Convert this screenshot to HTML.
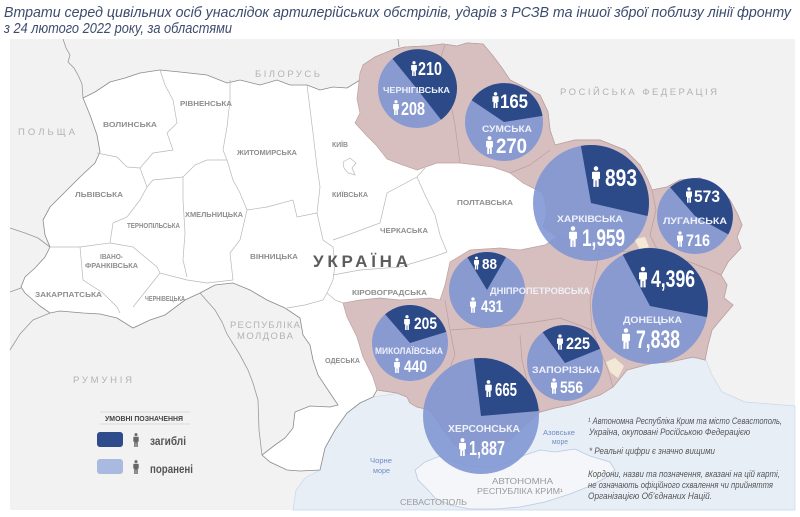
<!DOCTYPE html>
<html><head><meta charset="utf-8">
<style>
html,body{margin:0;padding:0;background:#fff;}
svg{display:block;}
text{font-family:"Liberation Sans","Noto Sans CJK SC",sans-serif;}
.cl{fill:#b3b3b3;font-size:9.5px;}
.rl{fill:#8e8e8e;font-size:7.5px;font-weight:bold;}
.pl{fill:#eef1fa;font-weight:bold;}
.pn{fill:#ffffff;font-weight:bold;}
.fn{fill:#555;font-size:9px;font-style:italic;}
.sea{fill:#6d8cc4;font-size:7.5px;}
</style></head>
<body>
<svg width="800" height="517" viewBox="0 0 800 517" xmlns="http://www.w3.org/2000/svg">
<defs>
<symbol id="pi" viewBox="0 0 10 26"><circle cx="5" cy="3" r="2.8"/><path d="M1.2,7 H8.8 Q10,7 10,8.2 V16 H8.3 V26 H5.6 V18 H4.4 V26 H1.7 V16 H0 V8.2 Q0,7 1.2,7Z"/></symbol>
</defs>
<rect width="800" height="517" fill="#fff"/>
<!-- title -->
<text x="4" y="17" font-size="15" font-style="italic" fill="#3d4c6e" textLength="787" lengthAdjust="spacingAndGlyphs">Втрати серед цивільних осіб унаслідок артилерійських обстрілів, ударів з РСЗВ та іншої зброї поблизу лінії фронту</text>
<text x="4" y="33" font-size="15" font-style="italic" fill="#3d4c6e" textLength="228" lengthAdjust="spacingAndGlyphs">з 24 лютого 2022 року, за областями</text>

<!-- map frame -->
<rect x="10" y="39" width="785" height="471" fill="#f2f2f2"/>
<!-- sea -->
<path d="M293,510 L296,490 L305,478 L320,470 L325,448 L335,430 L347,413 L360,403 L373,397 L400,393 L430,405 L540,405 L600,392 L627,368 L670,358 L705,358 L712,375 L722,392 L745,402 L795,406 L795,510 Z" fill="#e8eef6" stroke="#c9d7eb" stroke-width="0.7"/>

<!-- other country borders -->
<g fill="none" stroke="#9a9a9a" stroke-width="0.8">
<path d="M63,39 L66,48 L70,55 L68,62 L74,68 L78,75 L82,84 L83,98"/>
<path d="M398,39 L399,47"/>
<path d="M10,228 L25,233 L38,238 L50,247"/>
<path d="M10,292 L21,288"/>
<path d="M10,350 L20,334 L33,320 L50,313"/>
<path d="M200,293 L215,310 L222,322 L227,334 L240,355 L248,370 L253,383 L258,400 L259,430 L262,455"/>
</g>

<!-- Ukraine -->
<path d="M83,98 L95,92 L110,82 L125,78 L140,73 L160,70 L180,72 L207,75 L227,83 L240,80 L260,85 L277,80 L290,85 L307,85 L320,90 L333,87 L347,88 L360,80 L363,65 L375,57 L392,50 L405,47 L427,46 L443,44 L457,46 L467,43 L483,44 L493,56 L502,68 L510,80 L520,85 L540,95 L548,112 L550,130 L555,145 L575,140 L600,140 L625,150 L640,165 L648,180 L652,190 L667,187 L680,180 L700,178 L715,185 L730,200 L738,215 L742,225 L737,237 L741,248 L728,262 L721,275 L727,285 L724,298 L733,305 L722,318 L712,330 L708,345 L705,360 L693,357 L670,362 L653,363 L627,370 L613,387 L600,395 L585,400 L570,405 L555,408 L540,412 L525,425 L510,440 L490,450 L470,455 L455,445 L440,425 L430,410 L417,407 L410,403 L407,397 L397,393 L377,390 L373,397 L360,403 L347,413 L335,430 L325,448 L320,470 L300,471 L287,470 L270,462 L262,455 L275,445 L285,438 L293,428 L295,412 L310,406 L330,407 L338,405 L330,393 L318,375 L313,360 L310,345 L303,335 L300,318 L285,308 L267,300 L250,290 L233,283 L215,285 L200,293 L185,300 L165,315 L150,320 L133,328 L117,318 L100,314 L83,313 L60,311 L50,313 L40,306 L33,300 L25,293 L21,287 L25,277 L35,268 L45,257 L50,247 L45,235 L43,220 L50,207 L65,192 L80,177 L95,163 L100,152 L97,135 L90,115 Z" fill="#ffffff" stroke="#8a8a8a" stroke-width="0.8"/>

<!-- affected regions (pink) -->
<path d="M363,65 L375,57 L392,50 L405,47 L427,46 L443,44 L457,46 L467,43 L483,44 L493,56 L502,68 L510,80 L520,85 L540,95 L548,112 L550,130 L555,145 L575,140 L600,140 L625,150 L640,165 L648,180 L652,190 L667,187 L680,180 L700,178 L715,185 L730,200 L738,215 L742,225 L737,237 L741,248 L728,262 L721,275 L727,285 L724,298 L733,305 L722,318 L712,330 L708,345 L705,360 L693,357 L670,362 L653,363 L627,370 L613,387 L600,395 L585,400 L570,405 L555,408 L540,412 L525,425 L510,440 L490,450 L470,455 L455,445 L440,425 L430,410 L417,407 L410,403 L407,397 L397,393 L377,390 L373,377 L363,357 L357,337 L347,317 L343,303 L360,300 L380,298 L400,300 L430,298 L440,300 L445,285 L450,262 L470,250 L500,248 L520,250 L545,245 L557,237 L543,227 L547,213 L543,193 L533,188 L523,183 L510,173 L493,167 L460,163 L437,163 L417,170 L400,164 L387,159 L377,146 L367,136 L355,123 L360,113 L357,99 L360,73 Z" fill="#d6bfbe" stroke="#bfa2a2" stroke-width="0.7"/>
<!-- occupied cream -->
<path d="M634,239 L645,237 L649,247 L640,250 Z" fill="#f3e7d6"/>
<path d="M606,362 L615,358 L624,366 L618,378 L610,372 Z" fill="#f3e7d6"/>

<!-- Crimea -->
<path d="M425,462 L440,456 L455,462 L470,466 L490,468 L510,462 L525,455 L540,450 L555,452 L575,449 L590,456 L610,462 L615,470 L605,478 L590,486 L570,494 L545,502 L520,507 L495,509 L470,509 L450,505 L435,498 L428,490 L418,480 L415,470 Z" fill="#f4f6f9" stroke="#b9c9e2" stroke-width="0.8"/>

<!-- internal oblast borders (white area) -->
<g fill="none" stroke="#b8b8b8" stroke-width="0.7">
<path d="M160,70 L165,85 L173,100 L177,123 L167,133 L173,150"/>
<path d="M97,153 L117,157 L127,167 L140,168 L153,153 L173,150"/>
<path d="M140,168 L147,187 L153,180 L183,177"/>
<path d="M147,187 L140,200 L127,217 L113,223 L110,243 L80,247 L50,247"/>
<path d="M183,177 L183,200 L185,233 L183,260 L187,277"/>
<path d="M230,80 L230,100 L227,127 L223,150 L227,160"/>
<path d="M183,177 L195,165 L207,160 L227,160"/>
<path d="M227,160 L233,180 L240,193 L247,210 L240,240 L230,253 L233,280"/>
<path d="M247,210 L267,207 L293,200 L297,217 L317,213"/>
<path d="M307,85 L313,133 L317,167 L320,187 L317,213"/>
<path d="M317,213 L323,240 L333,247 L335,265 L333,280 L327,293 L323,300 L305,305 L287,308"/>
<path d="M333,240 L353,233 L380,223 L387,193 L417,177 L425,168"/>
<path d="M417,177 L425,195 L435,215 L440,235 L447,252"/>
<path d="M333,275 L360,270 L400,267 L433,257 L447,252"/>
<path d="M327,293 L335,300 L343,303"/>
<path d="M80,247 L83,280 L103,293 L117,307 L120,313"/>
<path d="M133,307 L145,292 L160,273 L187,280 L207,283 L233,280"/>
<path d="M110,243 L133,247 L157,267 L160,273"/>
<path d="M343,162 L350,158 L356,163 L352,168 L355,175 L348,173 L344,168 Z"/>
</g>
<!-- internal borders pink area -->
<g fill="none" stroke="#bb9e9e" stroke-width="0.7">
<path d="M445,45 L440,60 L445,80 L450,100 L455,125 L460,163"/>
<path d="M510,173 L530,165 L550,150"/>
<path d="M652,190 L656,210 L650,235 L660,255"/>
<path d="M557,237 L580,245 L600,250 L620,252 L640,250 L660,255"/>
<path d="M660,255 L690,262 L710,270 L721,275"/>
<path d="M600,250 L595,275 L590,300 L592,330"/>
<path d="M450,330 L480,328 L510,325 L535,322 L560,318 L592,330"/>
<path d="M592,330 L600,350 L608,370 L613,387"/>
<path d="M520,335 L522,360 L528,385 L540,412"/>
<path d="M450,330 L455,355 L445,380 L430,400"/>
<path d="M445,300 L450,330"/>
</g>

<!-- country labels -->
<text class="cl" x="255" y="77" textLength="65" lengthAdjust="spacing">БІЛОРУСЬ</text>
<text class="cl" x="18" y="135" textLength="57" lengthAdjust="spacing">ПОЛЬЩА</text>
<text class="cl" x="560" y="95" textLength="157" lengthAdjust="spacing">РОСІЙСЬКА ФЕДЕРАЦІЯ</text>
<text class="cl" x="73" y="383" textLength="59" lengthAdjust="spacing">РУМУНІЯ</text>
<text class="cl" x="230" y="328" textLength="70" lengthAdjust="spacing">РЕСПУБЛІКА</text>
<text class="cl" x="237" y="339" textLength="56" lengthAdjust="spacing">МОЛДОВА</text>
<text x="313" y="267" font-size="17" font-weight="bold" fill="#5c5c5c" textLength="95" lengthAdjust="spacing">УКРАЇНА</text>

<!-- oblast labels -->
<text class="rl" x="103" y="127" textLength="54" lengthAdjust="spacingAndGlyphs">ВОЛИНСЬКА</text>
<text class="rl" x="180" y="106" textLength="52" lengthAdjust="spacingAndGlyphs">РІВНЕНСЬКА</text>
<text class="rl" x="237" y="155" textLength="60" lengthAdjust="spacingAndGlyphs">ЖИТОМИРСЬКА</text>
<text class="rl" x="332" y="147" textLength="16" lengthAdjust="spacingAndGlyphs">КИЇВ</text>
<text class="rl" x="75" y="197" textLength="48" lengthAdjust="spacingAndGlyphs">ЛЬВІВСЬКА</text>
<text class="rl" x="332" y="197" textLength="36" lengthAdjust="spacingAndGlyphs">КИЇВСЬКА</text>
<text class="rl" x="185" y="217" textLength="58" lengthAdjust="spacingAndGlyphs">ХМЕЛЬНИЦЬКА</text>
<text class="rl" x="127" y="228" font-size="6" textLength="53" lengthAdjust="spacingAndGlyphs">ТЕРНОПІЛЬСЬКА</text>
<text class="rl" x="380" y="233" textLength="48" lengthAdjust="spacingAndGlyphs">ЧЕРКАСЬКА</text>
<text class="rl" x="457" y="205" textLength="56" lengthAdjust="spacingAndGlyphs">ПОЛТАВСЬКА</text>
<text class="rl" x="100" y="259" textLength="23" lengthAdjust="spacingAndGlyphs">ІВАНО-</text>
<text class="rl" x="85" y="268" textLength="53" lengthAdjust="spacingAndGlyphs">ФРАНКІВСЬКА</text>
<text class="rl" x="250" y="259" textLength="48" lengthAdjust="spacingAndGlyphs">ВІННИЦЬКА</text>
<text class="rl" x="352" y="295" textLength="75" lengthAdjust="spacingAndGlyphs">КІРОВОГРАДСЬКА</text>
<text class="rl" x="35" y="297" textLength="67" lengthAdjust="spacingAndGlyphs">ЗАКАРПАТСЬКА</text>
<text class="rl" x="145" y="301" font-size="6" textLength="40" lengthAdjust="spacingAndGlyphs">ЧЕРНІВЕЦЬКА</text>
<text class="rl" x="325" y="363" textLength="35" lengthAdjust="spacingAndGlyphs">ОДЕСЬКА</text>

<!-- sea / crimea labels -->
<text class="sea" x="370" y="463" textLength="22" lengthAdjust="spacingAndGlyphs">Чорне</text>
<text class="sea" x="373" y="473" textLength="17" lengthAdjust="spacingAndGlyphs">море</text>
<text class="sea" x="543" y="435" textLength="32" lengthAdjust="spacingAndGlyphs">Азовське</text>
<text class="sea" x="552" y="444" textLength="16" lengthAdjust="spacingAndGlyphs">море</text>
<text x="492" y="484" font-size="8" fill="#9a9a9a" textLength="61" lengthAdjust="spacingAndGlyphs">АВТОНОМНА</text>
<text x="477" y="494" font-size="8" fill="#9a9a9a" textLength="86" lengthAdjust="spacingAndGlyphs">РЕСПУБЛІКА КРИМ¹</text>
<text x="400" y="505" font-size="8" fill="#9a9a9a" textLength="67" lengthAdjust="spacingAndGlyphs">СЕВАСТОПОЛЬ</text>

<!-- pies -->
<g>
<circle cx="417" cy="89" r="39" fill="#7e95d4" fill-opacity="0.88"/>
<path d="M417,89 L392.5,58.7 A39,39 0 1 1 441,119.7 Z" fill="#2c4a87"/>
<circle cx="504" cy="122" r="39" fill="#7e95d4" fill-opacity="0.88"/>
<path d="M504,122 L471.7,100.2 A39,39 0 0 1 542.5,115.9 Z" fill="#2c4a87"/>
<circle cx="591" cy="203" r="58" fill="#7e95d4" fill-opacity="0.88"/>
<path d="M591,203 L580.9,145.9 A58,58 0 0 1 647.5,216 Z" fill="#2c4a87"/>
<circle cx="695" cy="216" r="38" fill="#7e95d4" fill-opacity="0.88"/>
<path d="M695,216 L670.1,187.3 A38,38 0 0 1 728.2,234.4 Z" fill="#2c4a87"/>
<circle cx="650" cy="306" r="58" fill="#7e95d4" fill-opacity="0.88"/>
<path d="M650,306 L622.8,254.8 A58,58 0 0 1 706.9,317.1 Z" fill="#2c4a87"/>
<circle cx="487" cy="290" r="38" fill="#7e95d4" fill-opacity="0.88"/>
<path d="M487,290 L467.4,257.4 A38,38 0 0 1 506,257.1 Z" fill="#2c4a87"/>
<circle cx="410" cy="343" r="38" fill="#7e95d4" fill-opacity="0.88"/>
<path d="M410,343 L385.1,314.3 A38,38 0 0 1 446.3,331.9 Z" fill="#2c4a87"/>
<circle cx="565" cy="363" r="38" fill="#7e95d4" fill-opacity="0.88"/>
<path d="M565,363 L542.7,332.3 A38,38 0 0 1 600.2,348.8 Z" fill="#2c4a87"/>
<circle cx="481" cy="416" r="58" fill="#7e95d4" fill-opacity="0.88"/>
<path d="M481,416 L473.9,358.4 A58,58 0 0 1 538.8,411 Z" fill="#2c4a87"/>
</g>

<!-- pie labels -->
<g fill="#fff">
<use href="#pi" x="411" y="61" width="6" height="15"/>
<text class="pn" x="418" y="75" font-size="18" textLength="24" lengthAdjust="spacingAndGlyphs">210</text>
<text class="pl" x="383" y="93" font-size="8.5" textLength="67" lengthAdjust="spacingAndGlyphs">ЧЕРНІГІВСЬКА</text>
<use href="#pi" x="393" y="100" width="6" height="15"/>
<text class="pn" x="401" y="115" font-size="18" textLength="24" lengthAdjust="spacingAndGlyphs">208</text>

<use href="#pi" x="492" y="92" width="7" height="16"/>
<text class="pn" x="500" y="108" font-size="19" textLength="28" lengthAdjust="spacingAndGlyphs">165</text>
<text class="pl" x="482" y="132" font-size="9" textLength="50" lengthAdjust="spacingAndGlyphs">СУМСЬКА</text>
<use href="#pi" x="486" y="136" width="7" height="18"/>
<text class="pn" x="496" y="153" font-size="21" textLength="31" lengthAdjust="spacingAndGlyphs">270</text>

<use href="#pi" x="592" y="166" width="8" height="21"/>
<text class="pn" x="605" y="186" font-size="24" textLength="32" lengthAdjust="spacingAndGlyphs">893</text>
<text class="pl" x="557" y="222" font-size="9.5" textLength="66" lengthAdjust="spacingAndGlyphs">ХАРКІВСЬКА</text>
<use href="#pi" x="569" y="226" width="8" height="21"/>
<text class="pn" x="582" y="246" font-size="24" textLength="43" lengthAdjust="spacingAndGlyphs">1,959</text>

<use href="#pi" x="686" y="187" width="6" height="16"/>
<text class="pn" x="694" y="202" font-size="17" textLength="26" lengthAdjust="spacingAndGlyphs">573</text>
<text class="pl" x="663" y="224" font-size="9.5" textLength="64" lengthAdjust="spacingAndGlyphs">ЛУГАНСЬКА</text>
<use href="#pi" x="677" y="231" width="6" height="16"/>
<text class="pn" x="686" y="246" font-size="17" textLength="24" lengthAdjust="spacingAndGlyphs">716</text>

<use href="#pi" x="639" y="266" width="8" height="22"/>
<text class="pn" x="651" y="287" font-size="24" textLength="44" lengthAdjust="spacingAndGlyphs">4,396</text>
<text class="pl" x="623" y="323" font-size="9.5" textLength="59" lengthAdjust="spacingAndGlyphs">ДОНЕЦЬКА</text>
<use href="#pi" x="622" y="328" width="8" height="21"/>
<text class="pn" x="636" y="348" font-size="25" textLength="44" lengthAdjust="spacingAndGlyphs">7,838</text>

<use href="#pi" x="474" y="256" width="5" height="14"/>
<text class="pn" x="482" y="269" font-size="15" textLength="15" lengthAdjust="spacingAndGlyphs">88</text>
<text class="pl" x="490" y="294" font-size="9" textLength="100" lengthAdjust="spacingAndGlyphs">ДНІПРОПЕТРОВСЬКА</text>
<use href="#pi" x="470" y="297" width="6" height="16"/>
<text class="pn" x="481" y="312" font-size="17" textLength="22" lengthAdjust="spacingAndGlyphs">431</text>

<use href="#pi" x="404" y="315" width="6" height="15"/>
<text class="pn" x="414" y="329" font-size="17" textLength="23" lengthAdjust="spacingAndGlyphs">205</text>
<text class="pl" x="375" y="354" font-size="9" textLength="68" lengthAdjust="spacingAndGlyphs">МИКОЛАЇВСЬКА</text>
<use href="#pi" x="394" y="358" width="6" height="15"/>
<text class="pn" x="404" y="372" font-size="17" textLength="23" lengthAdjust="spacingAndGlyphs">440</text>

<use href="#pi" x="557" y="334" width="6" height="16"/>
<text class="pn" x="566" y="349" font-size="17" textLength="24" lengthAdjust="spacingAndGlyphs">225</text>
<text class="pl" x="532" y="373" font-size="9.5" textLength="68" lengthAdjust="spacingAndGlyphs">ЗАПОРІЗЬКА</text>
<use href="#pi" x="551" y="378" width="6" height="16"/>
<text class="pn" x="560" y="393" font-size="17" textLength="23" lengthAdjust="spacingAndGlyphs">556</text>

<use href="#pi" x="485" y="380" width="7" height="17"/>
<text class="pn" x="495" y="396" font-size="18" textLength="22" lengthAdjust="spacingAndGlyphs">665</text>
<text class="pl" x="448" y="432" font-size="10.5" textLength="72" lengthAdjust="spacingAndGlyphs">ХЕРСОНСЬКА</text>
<use href="#pi" x="459" y="438" width="7" height="18"/>
<text class="pn" x="469" y="455" font-size="20" textLength="36" lengthAdjust="spacingAndGlyphs">1,887</text>
</g>

<!-- legend -->
<line x1="100" y1="412" x2="190" y2="412" stroke="#d2d2d2" stroke-width="0.8"/>
<line x1="100" y1="424" x2="190" y2="424" stroke="#d2d2d2" stroke-width="0.8"/>
<text x="105" y="421" font-size="7" font-weight="bold" fill="#444" textLength="78" lengthAdjust="spacingAndGlyphs">УМОВНІ ПОЗНАЧЕННЯ</text>
<rect x="97" y="432" width="26" height="15" rx="3" fill="#2e4b8b"/>
<use href="#pi" x="133" y="433" width="6" height="14" fill="#666"/>
<text x="150" y="445" font-size="12" font-weight="bold" fill="#555" textLength="36" lengthAdjust="spacingAndGlyphs">загиблі</text>
<rect x="97" y="459" width="26" height="15" rx="3" fill="#a9b9e0"/>
<use href="#pi" x="133" y="460" width="6" height="14" fill="#666"/>
<text x="150" y="473" font-size="12" font-weight="bold" fill="#555" textLength="43" lengthAdjust="spacingAndGlyphs">поранені</text>

<!-- footnotes -->
<text class="fn" x="588" y="424" textLength="194" lengthAdjust="spacingAndGlyphs">¹ Автономна Республіка Крим та місто Севастополь,</text>
<text class="fn" x="589" y="435" textLength="161" lengthAdjust="spacingAndGlyphs">Україна, окуповані Російською Федерацією</text>
<text class="fn" x="589" y="454" textLength="126" lengthAdjust="spacingAndGlyphs">* Реальні цифри є значно вищими</text>
<text class="fn" x="588" y="477" textLength="192" lengthAdjust="spacingAndGlyphs">Кордони, назви та позначення, вказані на цій карті,</text>
<text class="fn" x="588" y="488" textLength="185" lengthAdjust="spacingAndGlyphs">не означають офіційного схвалення чи прийняття</text>
<text class="fn" x="588" y="499" textLength="124" lengthAdjust="spacingAndGlyphs">Організацією Об’єднаних Націй.</text>
</svg>
</body></html>
